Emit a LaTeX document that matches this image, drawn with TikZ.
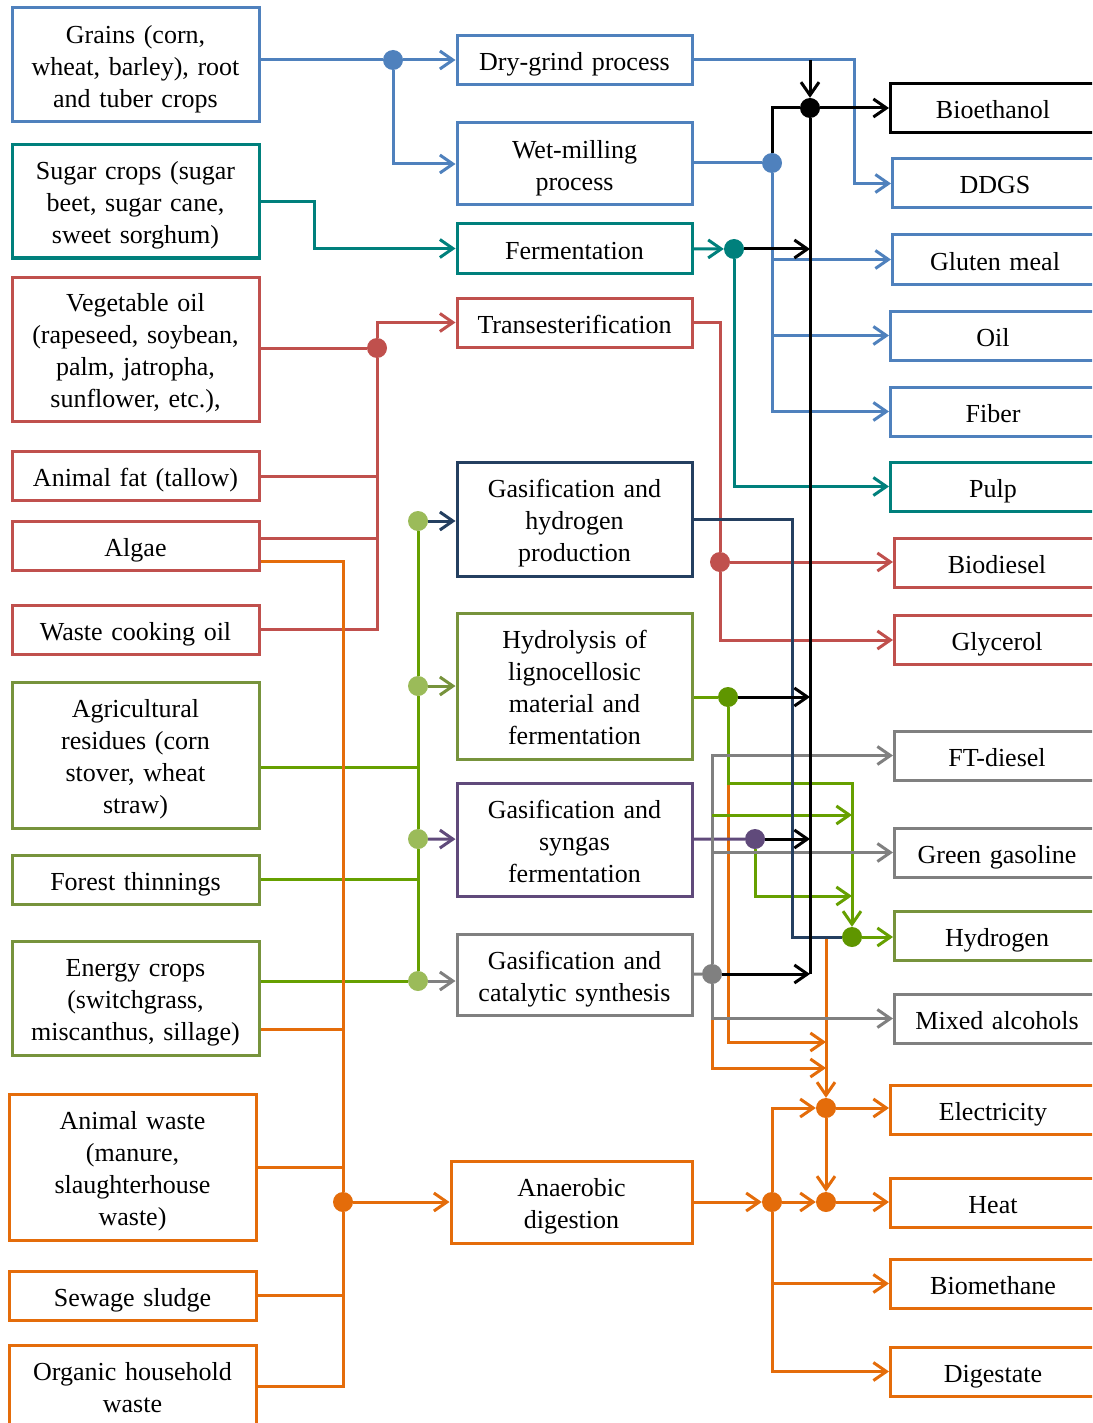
\documentclass[tikz,border=0pt]{standalone}
\usepackage{fontspec}
\setmainfont{Liberation Serif}
\usepackage{xcolor}
\usetikzlibrary{arrows.meta,calc}
\definecolor{cBl}{HTML}{4F81BD}
\definecolor{cTe}{HTML}{00807C}
\definecolor{cRe}{HTML}{C0504D}
\definecolor{cNv}{HTML}{243F60}
\definecolor{cOl}{HTML}{77933C}
\definecolor{cGn}{HTML}{66A000}
\definecolor{cDg}{HTML}{5F9600}
\definecolor{cLg}{HTML}{9BBB59}
\definecolor{cPu}{HTML}{604A7B}
\definecolor{cGy}{HTML}{808080}
\definecolor{cOr}{HTML}{E46C0A}

\begin{document}
\begin{tikzpicture}[
  x=1pt, y=-1pt,
  font=\fontsize{26}{32}\selectfont,
  box/.style={draw, line width=3pt, align=center, inner sep=0pt, minimum height=49,
    execute at begin node={\rule{0pt}{27pt}}, execute at end node={\rule[-6pt]{0pt}{0pt}}},
  src/.style={box, minimum width=247, text width=240},
  proc/.style={box, minimum width=235, text width=228},
  outbox/.style={box, anchor=west, minimum width=205, text width=200},
  jdot/.style={circle, fill=#1, inner sep=0pt, minimum size=20},
  ln/.style={draw=#1, line width=3pt},
  arr/.style={-{Straight Barb[length=13pt,width=18pt]}}
]
  \useasboundingbox (0,0) rectangle (1092,1423);
  \clip (0,0) rectangle (1092,1423);

  %% sources
  \node[src, draw=cBl, minimum height=114] (grains) at (135.5,65) {Grains (corn,\\wheat, barley), root\\and tuber crops};
  \node[src, draw=cTe, minimum height=113] (sugar) at (135.5,201.5) {Sugar crops (sugar\\beet, sugar cane,\\sweet sorghum)};
  \node[src, draw=cRe, minimum height=144] (vegoil) at (135.5,349) {Vegetable oil\\(rapeseed, soybean,\\palm, jatropha,\\sunflower, etc.),};
  \node[src, draw=cRe] (fat) at (135.5,476) {Animal fat (tallow)};
  \node[src, draw=cRe] (algae) at (135.5,545.5) {Algae};
  \node[src, draw=cRe] (wco) at (135.5,629.5) {Waste cooking oil};
  \node[src, draw=cOl, minimum height=146] (agri) at (135.5,755) {Agricultural\\residues (corn\\stover, wheat\\straw)};
  \node[src, draw=cOl] (forest) at (135.5,879.5) {Forest thinnings};
  \node[src, draw=cOl, minimum height=114] (energy) at (135.5,998) {Energy crops\\(switchgrass,\\miscanthus, sillage)};
  \node[src, draw=cOr, minimum height=146] (animal) at (132.5,1167) {Animal waste\\(manure,\\slaughterhouse\\waste)};
  \node[src, draw=cOr] (sewage) at (132.5,1295.5) {Sewage sludge};
  \node[src, draw=cOr, minimum height=82] (household) at (132.5,1386) {Organic household\\waste};

  %% processes
  \node[proc, draw=cBl] (drygrind) at (574.5,60) {Dry-grind process};
  \node[proc, draw=cBl, minimum height=82] (wetmill) at (574.5,164) {Wet-milling\\process};
  \node[proc, draw=cTe] (ferm) at (574.5,248.5) {Fermentation};
  \node[proc, draw=cRe] (trans) at (574.5,322.5) {Transesterification};
  \node[proc, draw=cNv, minimum height=114] (gashyd) at (574.5,519) {Gasification and\\hydrogen\\production};
  \node[proc, draw=cOl, minimum height=146] (hydrol) at (574.5,686) {Hydrolysis of\\lignocellosic\\material and\\fermentation};
  \node[proc, draw=cPu, minimum height=113] (syngas) at (574.5,839.5) {Gasification and\\syngas\\fermentation};
  \node[proc, draw=cGy, minimum height=81] (catsyn) at (574.5,974.5) {Gasification and\\catalytic synthesis};
  \node[proc, draw=cOr, minimum height=82, minimum width=241] (anaer) at (571.5,1202) {Anaerobic\\digestion};

  %% products
  \node[outbox, draw=black] (bioeth) at (889,108) {Bioethanol};
  \node[outbox, draw=cBl] (ddgs) at (891,183.5) {DDGS};
  \node[outbox, draw=cBl] (gluten) at (891,259.5) {Gluten meal};
  \node[outbox, draw=cBl] (oil) at (889,335.5) {Oil};
  \node[outbox, draw=cBl] (fiber) at (889,411.5) {Fiber};
  \node[outbox, draw=cTe] (pulp) at (889,486.5) {Pulp};
  \node[outbox, draw=cRe] (biodiesel) at (893,562.5) {Biodiesel};
  \node[outbox, draw=cRe] (glycerol) at (893,640) {Glycerol};
  \node[outbox, draw=cGy] (ftdiesel) at (893,755.5) {FT-diesel};
  \node[outbox, draw=cGy] (gasoline) at (893,852.5) {Green gasoline};
  \node[outbox, draw=cOl] (hydrogen) at (893,935.5) {Hydrogen};
  \node[outbox, draw=cGy] (alcohols) at (893,1018.5) {Mixed alcohols};
  \node[outbox, draw=cOr] (electricity) at (889,1109.5) {Electricity};
  \node[outbox, draw=cOr] (heat) at (889,1202.5) {Heat};
  \node[outbox, draw=cOr] (biomethane) at (889,1283.5) {Biomethane};
  \node[outbox, draw=cOr] (digestate) at (889,1371.5) {Digestate};

  %% junctions
  \node[jdot=cBl] (dGr) at (393,60) {};
  \node[jdot=cBl] (dWet) at (772,163) {};
  \node[jdot=black] (dEth) at (810,108) {};
  \node[jdot=cTe] (dFer) at (734,249) {};
  \node[jdot=cRe] (dOil) at (377,348) {};
  \node[jdot=cRe] (dTr) at (720,562) {};
  \node[jdot=cLg] (dG1) at (418,521) {};
  \node[jdot=cLg] (dG2) at (418,686) {};
  \node[jdot=cLg] (dG3) at (418,839) {};
  \node[jdot=cLg] (dG4) at (418,981) {};
  \node[jdot=cDg] (dHyd) at (728,697) {};
  \node[jdot=cPu] (dSyn) at (755,839) {};
  \node[jdot=cGy] (dCat) at (712,974) {};
  \node[jdot=cDg] (dH2) at (852,937) {};
  \node[jdot=cOr] (dAn) at (343,1202) {};
  \node[jdot=cOr] (dAD) at (772,1202) {};
  \node[jdot=cOr] (dEl) at (826,1108) {};
  \node[jdot=cOr] (dHeat) at (826,1202) {};

  \coordinate (cDG) at ([xshift=161]drygrind.east);
  \coordinate (algR) at ([yshift=7.5]algae.east);
  \coordinate (algO) at ([yshift=-15.5]algae.east);
  \coordinate (agrG) at ([yshift=-12]agri.east);
  \coordinate (eneO) at ([yshift=-31]energy.east);
  \coordinate (hyC) at ([yshift=-86]dHyd);
  \coordinate (nvC) at ([xshift=-60]dH2);
  \coordinate (j1) at ([yshift=66]dEl);
  \coordinate (j2) at ([yshift=40]dEl);
  \coordinate (j3) at ([yshift=122]dH2);
  \coordinate (j4) at ([yshift=41]dH2);
  \coordinate (catC) at (dCat |- alcohols);

  %% grains
  \draw[ln=cBl] (grains.east |- dGr) -- (dGr);
  \draw[ln=cBl, arr] (dGr) -- (drygrind);
  \draw[ln=cBl, arr] (dGr) |- (wetmill);
  \draw[ln=cBl, arr] (drygrind) -- (cDG) |- (ddgs);
  \draw[ln=cBl] (wetmill.east |- dWet) -- (dWet);
  \draw[ln=cBl, arr] (dWet) |- (gluten);
  \draw[ln=cBl, arr] (dWet) |- (oil);
  \draw[ln=cBl, arr] (dWet) |- (fiber);

  %% sugar
  \draw[ln=cTe, arr] (sugar.east) -- ++(54,0) |- (ferm);
  \draw[ln=cTe, arr] (ferm) -- (dFer);
  \draw[ln=cTe, arr] (dFer) |- (pulp);

  %% oils
  \draw[ln=cRe] (vegoil.east |- dOil) -- (dOil);
  \draw[ln=cRe, arr] (dOil) |- (trans);
  \draw[ln=cRe] (dOil) |- (wco);
  \draw[ln=cRe] (fat) -- (fat -| dOil);
  \draw[ln=cRe] (algR) -- (algR -| dOil);
  \draw[ln=cRe] (trans) -| (dTr);
  \draw[ln=cRe, arr] (dTr) -- (dTr -| biodiesel.west);
  \draw[ln=cRe, arr] (dTr) |- (glycerol);

  %% lignocellulose
  \draw[ln=cGn] (agrG) -- (agrG -| dG1);
  \draw[ln=cGn] (forest) -- (forest -| dG1);
  \draw[ln=cGn] (energy.east |- dG4) -- (dG4);
  \draw[ln=cGn] (dG1) -- (dG2) -- (dG3) -- (dG4);
  \draw[ln=cNv, arr] (dG1) -- (dG1 -| gashyd.west);
  \draw[ln=cOl, arr] (dG2) -- (hydrol);
  \draw[ln=cPu, arr] (dG3) -- (syngas);
  \draw[ln=cGy, arr] (dG4) -- (dG4 -| catsyn.west);

  %% wet biomass
  \draw[ln=cOr] (algO) -| (dAn);
  \draw[ln=cOr] (dAn) |- (household);
  \draw[ln=cOr] (eneO) -- (eneO -| dAn);
  \draw[ln=cOr] (animal) -- (animal -| dAn);
  \draw[ln=cOr] (sewage) -- (sewage -| dAn);
  \draw[ln=cOr, arr] (dAn) -- (anaer);

  %% digestion products
  \draw[ln=cOr, arr] (anaer) -- (dAD);
  \draw[ln=cOr, arr] (dAD) -- (dHeat);
  \draw[ln=cOr, arr] (dHeat) -- (dHeat -| heat.west);
  \draw[ln=cOr, arr] (dAD) |- (dEl);
  \draw[ln=cOr, arr] (dEl) -- (dEl -| electricity.west);
  \draw[ln=cOr, arr] (dEl) -- (dHeat);
  \draw[ln=cOr, arr] (dAD) |- (biomethane);
  \draw[ln=cOr, arr] (dAD) |- (digestate);
  \draw[ln=cOr, arr] (dEl |- dH2) -- (dEl);
  \draw[ln=cOr, arr] (hyC) |- (j1);
  \draw[ln=cOr, arr] (catC) |- (j2);

  %% thermochemical
  \draw[ln=cGn] (hydrol.east |- dHyd) -- (dHyd);
  \draw[ln=cGn, arr] (dHyd) -- (hyC) -| (dH2);
  \draw[ln=cPu] (syngas) -- (dSyn);
  \draw[ln=cGn, arr] (dSyn) |- (j4);
  \draw[ln=cGy] (catsyn) -- (dCat);
  \draw[ln=cGy, arr] (dCat) |- (ftdiesel);
  \draw[ln=cGy, arr] (dCat) |- (gasoline);
  \draw[ln=cGy, arr] (dCat) |- (alcohols);
  \draw[ln=cGn, arr] (dCat |- j3) -- (j3);
  \draw[ln=cNv] (gashyd) -| (nvC) -- (dH2);
  \draw[ln=cGn, arr] (dH2) -- (dH2 -| hydrogen.west);

  %% ethanol
  \draw[ln=black, arr] (dEth |- drygrind) -- (dEth);
  \draw[ln=black] (dWet) |- (dEth);
  \draw[ln=black, arr] (dEth) -- (bioeth);
  \draw[ln=black] (dEth) -- (dEth |- dCat);
  \draw[ln=black, arr] (dFer) -- (dFer -| dEth);
  \draw[ln=black, arr] (dHyd) -- (dHyd -| dEth);
  \draw[ln=black, arr] (dSyn) -- (dSyn -| dEth);
  \draw[ln=black, arr] (dCat) -- (dCat -| dEth);
\end{tikzpicture}
\end{document}
